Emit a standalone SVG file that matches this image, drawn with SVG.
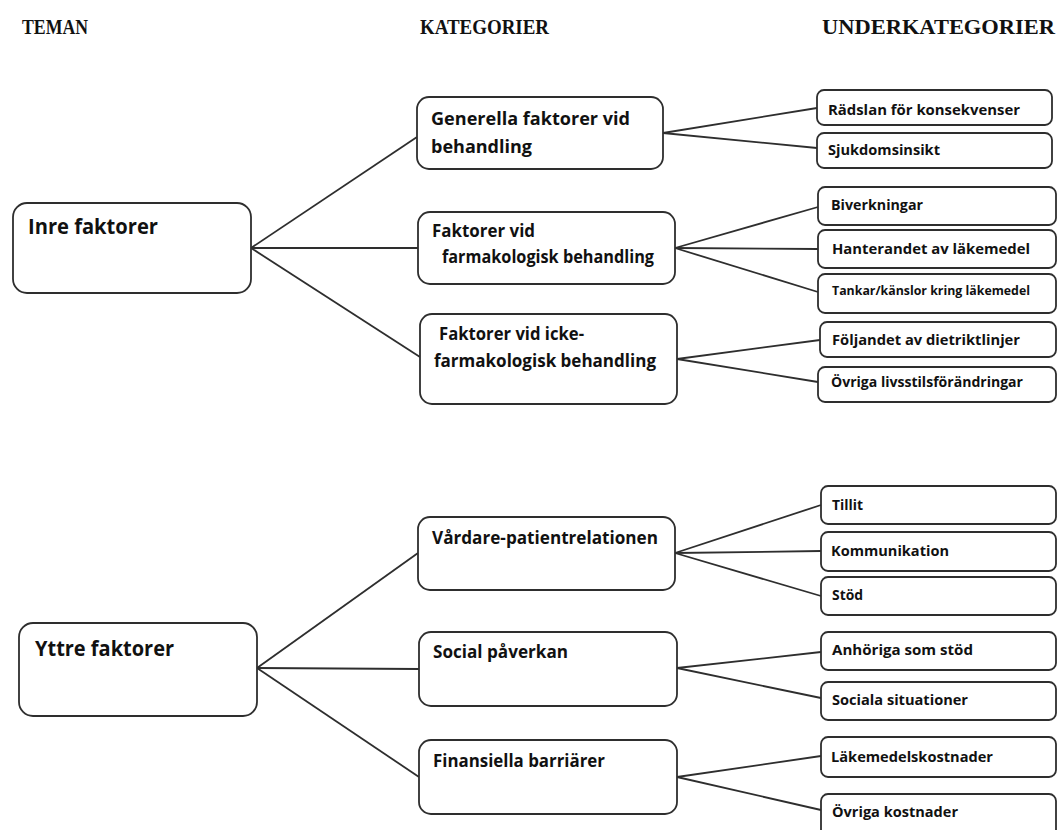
<svg xmlns="http://www.w3.org/2000/svg" width="1059" height="830" viewBox="0 0 1059 830">
<style>
.bg{fill:#ffffff}
.box{fill:#ffffff;stroke:#2e2e2e;stroke-width:1.8}
.conn line{stroke:#2e2e2e;stroke-width:1.8}
.hd{font-family:"Liberation Serif","Times New Roman",serif;font-weight:bold;font-size:20px;fill:#111}
.th{font-family:"Open Sans","Noto Sans",sans-serif;font-weight:bold;font-size:21.5px;fill:#111}
.cat{font-family:"Open Sans","Noto Sans",sans-serif;font-weight:bold;font-size:17px;fill:#111}
.sub{font-family:"Open Sans","Noto Sans",sans-serif;font-weight:bold;font-size:13.5px;fill:#111}
.sm{font-family:"Open Sans","Noto Sans",sans-serif;font-weight:bold;font-size:11.5px;fill:#111}
</style>
<rect class="bg" x="0" y="0" width="1059" height="830"/>
<g id="headers">
<text class="hd" x="22" y="34" textLength="66" lengthAdjust="spacingAndGlyphs">TEMAN</text>
<text class="hd" x="420" y="34" textLength="129" lengthAdjust="spacingAndGlyphs">KATEGORIER</text>
<text class="hd" x="822" y="34" textLength="233" lengthAdjust="spacingAndGlyphs">UNDERKATEGORIER</text>
</g>
<g id="connectors" class="conn">
<line x1="251" y1="248" x2="417" y2="137"/>
<line x1="251" y1="248" x2="418" y2="248"/>
<line x1="251" y1="248" x2="420" y2="357"/>
<line x1="663" y1="133" x2="817" y2="108"/>
<line x1="663" y1="133" x2="817" y2="148"/>
<line x1="675" y1="248" x2="818" y2="207"/>
<line x1="675" y1="248" x2="818" y2="249"/>
<line x1="675" y1="248" x2="818" y2="292"/>
<line x1="677" y1="359" x2="820" y2="340"/>
<line x1="677" y1="359" x2="818" y2="382"/>
<line x1="257" y1="668" x2="418" y2="553"/>
<line x1="257" y1="668" x2="419" y2="669"/>
<line x1="257" y1="668" x2="419" y2="777"/>
<line x1="675" y1="553" x2="821" y2="505"/>
<line x1="675" y1="553" x2="821" y2="551"/>
<line x1="675" y1="553" x2="821" y2="596"/>
<line x1="677" y1="668" x2="821" y2="652"/>
<line x1="677" y1="668" x2="821" y2="698"/>
<line x1="677" y1="777" x2="821" y2="756"/>
<line x1="677" y1="777" x2="821" y2="810"/>
</g>
<g id="inre">
<rect class="box" x="13" y="203" width="238" height="90" rx="14"/>
<text class="th" x="28" y="234" textLength="130" lengthAdjust="spacingAndGlyphs">Inre faktorer</text>
</g>
<g id="yttre">
<rect class="box" x="19" y="623" width="238" height="93" rx="14"/>
<text class="th" x="35" y="656" textLength="139" lengthAdjust="spacingAndGlyphs">Yttre faktorer</text>
</g>
<g id="generella">
<rect class="box" x="417" y="97" width="246" height="72" rx="12"/>
<text class="cat" x="431" y="125" textLength="199" lengthAdjust="spacingAndGlyphs">Generella faktorer vid</text>
<text class="cat" x="431" y="153" textLength="101" lengthAdjust="spacingAndGlyphs">behandling</text>
</g>
<g id="farmakologisk">
<rect class="box" x="418" y="212" width="257" height="72" rx="12"/>
<text class="cat" x="432" y="237" textLength="103" lengthAdjust="spacingAndGlyphs">Faktorer vid</text>
<text class="cat" x="442" y="263" textLength="212" lengthAdjust="spacingAndGlyphs">farmakologisk behandling</text>
</g>
<g id="icke">
<rect class="box" x="420" y="314" width="257" height="90" rx="12"/>
<text class="cat" x="439" y="340" textLength="145" lengthAdjust="spacingAndGlyphs">Faktorer vid icke-</text>
<text class="cat" x="434" y="367" textLength="222" lengthAdjust="spacingAndGlyphs">farmakologisk behandling</text>
</g>
<g id="vardare">
<rect class="box" x="418" y="517" width="257" height="73" rx="12"/>
<text class="cat" x="432" y="544" textLength="226" lengthAdjust="spacingAndGlyphs">Vårdare-patientrelationen</text>
</g>
<g id="social">
<rect class="box" x="419" y="632" width="258" height="74" rx="12"/>
<text class="cat" x="433" y="658" textLength="135" lengthAdjust="spacingAndGlyphs">Social påverkan</text>
</g>
<g id="finansiella">
<rect class="box" x="419" y="740" width="258" height="74" rx="12"/>
<text class="cat" x="433" y="767" textLength="172" lengthAdjust="spacingAndGlyphs">Finansiella barriärer</text>
</g>
<g id="radslan">
<rect class="box" x="817" y="90" width="235" height="35" rx="7"/>
<text class="sub" x="828" y="115" textLength="192" lengthAdjust="spacingAndGlyphs">Rädslan för konsekvenser</text>
</g>
<g id="sjukdomsinsikt">
<rect class="box" x="817" y="133" width="235" height="35" rx="7"/>
<text class="sub" x="828" y="155" textLength="112" lengthAdjust="spacingAndGlyphs">Sjukdomsinsikt</text>
</g>
<g id="biverkningar">
<rect class="box" x="818" y="187" width="238" height="38" rx="7"/>
<text class="sub" x="831" y="210" textLength="92" lengthAdjust="spacingAndGlyphs">Biverkningar</text>
</g>
<g id="hanterandet">
<rect class="box" x="818" y="230" width="238" height="38" rx="7"/>
<text class="sub" x="832" y="254" textLength="198" lengthAdjust="spacingAndGlyphs">Hanterandet av läkemedel</text>
</g>
<g id="tankar">
<rect class="box" x="818" y="274" width="238" height="39" rx="7"/>
<text class="sm" x="832" y="295" textLength="198" lengthAdjust="spacingAndGlyphs">Tankar/känslor kring läkemedel</text>
</g>
<g id="foljandet">
<rect class="box" x="820" y="322" width="236" height="35" rx="7"/>
<text class="sub" x="832" y="345" textLength="188" lengthAdjust="spacingAndGlyphs">Följandet av dietriktlinjer</text>
</g>
<g id="ovriga-livsstil">
<rect class="box" x="818" y="367" width="238" height="35" rx="7"/>
<text class="sub" x="831" y="387" textLength="192" lengthAdjust="spacingAndGlyphs">Övriga livsstilsförändringar</text>
</g>
<g id="tillit">
<rect class="box" x="821" y="486" width="235" height="38" rx="7"/>
<text class="sub" x="832" y="510" textLength="31" lengthAdjust="spacingAndGlyphs">Tillit</text>
</g>
<g id="kommunikation">
<rect class="box" x="821" y="532" width="235" height="39" rx="7"/>
<text class="sub" x="831" y="556" textLength="118" lengthAdjust="spacingAndGlyphs">Kommunikation</text>
</g>
<g id="stod">
<rect class="box" x="821" y="577" width="235" height="38" rx="7"/>
<text class="sub" x="832" y="600" textLength="31" lengthAdjust="spacingAndGlyphs">Stöd</text>
</g>
<g id="anhoriga">
<rect class="box" x="821" y="632" width="235" height="38" rx="7"/>
<text class="sub" x="832" y="655" textLength="141" lengthAdjust="spacingAndGlyphs">Anhöriga som stöd</text>
</g>
<g id="sociala">
<rect class="box" x="821" y="682" width="235" height="38" rx="7"/>
<text class="sub" x="832" y="705" textLength="136" lengthAdjust="spacingAndGlyphs">Sociala situationer</text>
</g>
<g id="lakemedelskostnader">
<rect class="box" x="821" y="737" width="235" height="40" rx="7"/>
<text class="sub" x="831" y="762" textLength="162" lengthAdjust="spacingAndGlyphs">Läkemedelskostnader</text>
</g>
<g id="ovriga-kostnader">
<rect class="box" x="821" y="794" width="235" height="45" rx="7"/>
<text class="sub" x="832" y="817" textLength="126" lengthAdjust="spacingAndGlyphs">Övriga kostnader</text>
</g>
</svg>
